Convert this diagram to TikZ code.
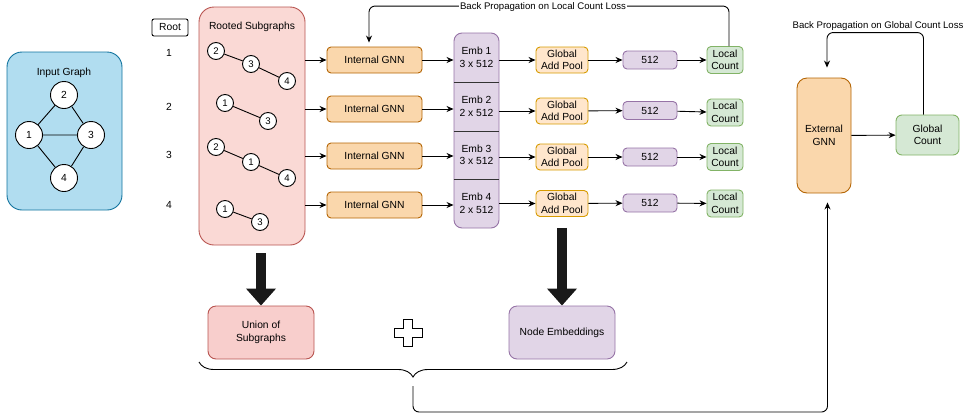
\documentclass[tikz,border=0pt]{standalone}
\usepackage{fontspec}
\setmainfont{Liberation Sans}
\usepackage{tikz}
\usetikzlibrary{positioning,arrows.meta,decorations.pathreplacing}

\definecolor{igfill}{HTML}{B1DDF0}
\definecolor{igline}{HTML}{10739E}
\definecolor{rsfill}{HTML}{FAD9D5}
\definecolor{rsline}{HTML}{B85450}
\definecolor{uofill}{HTML}{F8CECC}
\definecolor{gnnfill}{HTML}{FAD7AC}
\definecolor{gnnline}{HTML}{B46504}
\definecolor{gapfill}{HTML}{FFE6CC}
\definecolor{gapline}{HTML}{D79B00}
\definecolor{embfill}{HTML}{E1D5E7}
\definecolor{embline}{HTML}{9673A6}
\definecolor{cntfill}{HTML}{D5E8D4}
\definecolor{cntline}{HTML}{82B366}

\begin{document}
\begin{tikzpicture}
[x=1pt, y=-1pt, line width=0.9pt, >={Stealth[length=7pt,width=6pt]},
  font=\fontsize{10.3}{12.5}\selectfont,
  box/.style={draw, rounded corners=4pt, align=center, inner sep=0pt},
  gnnbox/.style={box, fill=gnnfill, draw=gnnline, minimum width=95pt, minimum height=26pt},
  poolbox/.style={box, fill=gapfill, draw=gapline, minimum width=52pt, minimum height=26pt},
  vecbox/.style={box, fill=embfill, draw=embline, minimum width=54pt, minimum height=18pt},
  cntbox/.style={box, fill=cntfill, draw=cntline, minimum width=36pt, minimum height=27pt},
  vert/.style={circle, draw, fill=white, minimum size=27pt, inner sep=0pt},
  svert/.style={circle, draw, fill=white, minimum size=17pt, inner sep=0pt, font=\fontsize{9.6}{11}\selectfont},
  bigarrow/.style={line width=9.5pt, draw=black!90, -{Triangle[length=17pt 0 0,width=29pt 0 0]}},
  losslabel/.style={font=\fontsize{9.6}{11}\selectfont, inner sep=1.5pt}]
  \useasboundingbox (0,0) rectangle (966,413);

  % input graph
  \node[box, rounded corners=15pt, fill=igfill, draw=igline, minimum width=115pt, minimum height=158pt] (ig) at (64.5,131) {};
  \node (iglabel) at (64,73) {Input Graph};
  \node[vert] (g2) at (64,95) {2};
  \node[vert] (g1) at (29,135) {1};
  \node[vert] (g3) at (91,135) {3};
  \node[vert] (g4) at (64,178) {4};
  \draw (g2) -- (g1) (g2) -- (g3) (g1) -- (g3) (g1) -- (g4) (g3) -- (g4);

  % roots and rooted subgraphs
  \node[box, rounded corners=2pt, minimum width=36pt, minimum height=17pt] (root) at (170,27.5) {Root};
  \node (root1) at (169,53) {1};
  \node (root2) at (169,107) {2};
  \node (root3) at (169,155) {3};
  \node (root4) at (169,205) {4};
  \node[box, rounded corners=15pt, fill=rsfill, draw=rsline, minimum width=106pt, minimum height=238pt] (rs) at (252,126) {};
  \node (rslabel) at (252,27) {Rooted Subgraphs};
  \node[svert] (a2) at (216,51) {2};
  \node[svert] (a3) at (251,64) {3};
  \node[svert] (a4) at (287,81) {4};
  \node[svert] (b1) at (225,103) {1};
  \node[svert] (b3) at (268,121) {3};
  \node[svert] (c2) at (216,147) {2};
  \node[svert] (c1) at (251,162) {1};
  \node[svert] (c4) at (287,178) {4};
  \node[svert] (d1) at (225,209) {1};
  \node[svert] (d3) at (260,222) {3};
  \draw (a2) -- (a3) -- (a4) (b1) -- (b3) (c2) -- (c1) -- (c4) (d1) -- (d3);

  % internal gnn
  \node[gnnbox] (gnn1) at (374.5,60) {Internal GNN};
  \node[gnnbox] (gnn2) at (374.5,109) {Internal GNN};
  \node[gnnbox] (gnn3) at (374.5,156) {Internal GNN};
  \node[gnnbox] (gnn4) at (374.5,205) {Internal GNN};

  % embeddings
  \node[box, rounded corners=8pt, fill=embfill, draw=embline, minimum width=45pt, minimum height=195pt] (emb) at (476.5,130.5) {};
  \draw[black!80] (emb.west |- 0,82) -- (emb.east |- 0,82)
    (emb.west |- 0,131) -- (emb.east |- 0,131)
    (emb.west |- 0,179) -- (emb.east |- 0,179);
  \node[align=center] (e1) at (476.5,57.5) {Emb 1\\3 x 512};
  \node[align=center] (e2) at (476.5,106.5) {Emb 2\\2 x 512};
  \node[align=center] (e3) at (476.5,155) {Emb 3\\3 x 512};
  \node[align=center] (e4) at (476.5,203.5) {Emb 4\\2 x 512};

  % pooling, 512 and local counts
  \node[poolbox] (gap1) at (562,60) {Global\\Add Pool};
  \node[poolbox] (gap2) at (562,111) {Global\\Add Pool};
  \node[poolbox] (gap3) at (562,157) {Global\\Add Pool};
  \node[poolbox] (gap4) at (562,203.5) {Global\\Add Pool};
  \node[vecbox] (vec1) at (650,60) {512};
  \node[vecbox] (vec2) at (650,110.5) {512};
  \node[vecbox] (vec3) at (650,157) {512};
  \node[vecbox] (vec4) at (650,203) {512};
  \node[cntbox] (lc1) at (725,60) {Local\\Count};
  \node[cntbox] (lc2) at (725,112.5) {Local\\Count};
  \node[cntbox] (lc3) at (725,157) {Local\\Count};
  \node[cntbox] (lc4) at (725,203.5) {Local\\Count};

  \draw[->] (rs.east |- gnn1) -- (gnn1);
  \draw[->] (rs.east |- gnn2) -- (gnn2);
  \draw[->] (rs.east |- gnn3) -- (gnn3);
  \draw[->] (rs.east |- gnn4) -- (gnn4);
  \draw[->] (gnn1) -- (emb.west |- gnn1);
  \draw[->] (gnn2) -- (emb.west |- gnn2);
  \draw[->] (gnn3) -- (emb.west |- gnn3);
  \draw[->] (gnn4) -- (emb.west |- gnn4);
  \draw[->] (emb.east |- gap1) -- (gap1);
  \draw[->] (emb.east |- gap2) -- (gap2);
  \draw[->] (emb.east |- gap3) -- (gap3);
  \draw[->] (emb.east |- gap4) -- (gap4);
  \draw[->] (gap1) -- (vec1);
  \draw[->] (gap2) -- (vec2);
  \draw[->] (gap3) -- (vec3);
  \draw[->] (gap4) -- (vec4);
  \draw[->] (vec1) -- (lc1);
  \draw[->] (vec2) -- (lc2);
  \draw[->] (vec3) -- (lc3);
  \draw[->] (vec4) -- (lc4);

  % local loss feedback
  \draw[->, rounded corners=6pt, shorten >=4pt] ([xshift=4pt]lc1.north) -- ++(0,-40) -| ([xshift=-5.5pt]gnn1.north);
  \node[losslabel, fill=white] (bpl) at (543,7) {Back Propagation on Local Count Loss};

  % union and node embeddings
  \node[box, rounded corners=8pt, fill=uofill, draw=rsline, minimum width=106pt, minimum height=53pt] (uos) at (261,332.5) {Union of\\Subgraphs};
  \node[box, rounded corners=8pt, fill=embfill, draw=embline, minimum width=106pt, minimum height=53pt] (nemb) at (562,332.5) {Node Embeddings};
  \draw[bigarrow, shorten <=8pt] (rs.south -| uos.north) -- (uos.north);
  \draw[bigarrow, shorten <=11pt] (gap4.south) -- (nemb.north);
  \draw[fill=white, line width=0.8pt] (403.5,319.5) -- (412.5,319.5) -- (412.5,328.5) -- (422,328.5) -- (422,337.5)
    -- (412.5,337.5) -- (412.5,346.5) -- (403.5,346.5) -- (403.5,337.5) -- (394,337.5) -- (394,328.5) -- (403.5,328.5) -- cycle;
  \draw[decorate, decoration={brace, mirror, amplitude=15pt}] (199,362) -- (627,362);
  \coordinate (bt) at (413,377);

  % external gnn
  \node[box, rounded corners=10pt, fill=gnnfill, draw=gnnline, minimum width=54pt, minimum height=115pt] (ext) at (824,135.5) {External\\GNN};
  \node[box, rounded corners=6pt, fill=cntfill, draw=cntline, minimum width=63pt, minimum height=40pt] (gc) at (927.5,135) {Global\\Count};
  \draw[->] (ext) -- (gc);
  \draw[->, rounded corners=6pt, shorten <=9pt, shorten >=9pt] (bt) -- ++(0,35) -| ([xshift=3.5pt]ext.south);
  \draw[->, rounded corners=6pt, shorten >=10pt] ([xshift=-4pt]gc.north) -- ++(0,-82) -| ([xshift=3pt]ext.north);
  \node[losslabel] (bpg) at (878,26) {Back Propagation on Global Count Loss};
\end{tikzpicture}
\end{document}
